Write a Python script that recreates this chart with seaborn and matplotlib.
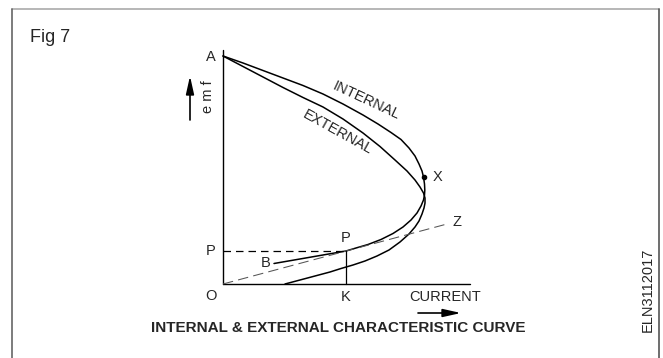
import numpy as np
import pandas as pd
import matplotlib
matplotlib.use("Agg")
import matplotlib.pyplot as plt
import seaborn as sns

sns.set_theme(style="white")
plt.rcParams['font.family'] = ['Liberation Sans', 'DejaVu Sans']

# ---- data (current, emf) in diagram units ----
internal_current = [0, 20, 40, 60, 80, 100, 120, 140, 155, 168, 178, 186, 192, 196, 199, 200.5,
                    201.5, 201.8, 201.5, 200.5, 198, 194, 188, 180, 170, 158, 145, 133, 123, 51]
internal_emf     = [228, 221, 213.5, 206, 198.5, 190, 180, 169, 160, 151.5, 144.5, 136, 128, 120, 113, 107,
                    100, 94, 89, 84, 78, 71, 64, 57, 50.5, 44.5, 39.5, 36, 33, 20.5]
external_current = [0, 20, 40, 60, 80, 100, 120, 140, 157, 172, 184, 192, 197, 200.5, 202, 202, 201,
                    199, 196, 192, 186, 177, 166, 154, 142, 130, 118, 107, 92, 77, 62]
external_emf     = [228, 217.5, 207, 196.5, 186.5, 177, 165, 151, 137.5, 124, 113, 104, 97, 91, 86, 81, 76,
                    70, 63, 57, 50, 42, 34, 28, 23, 19, 15.5, 12, 8, 4, 0]
load_line_current = [0, 224]
load_line_emf     = [0, 60]
point_P = (123, 33)
point_X = (200.5, 107)
point_B = (51, 20.5)

df = pd.concat([
    pd.DataFrame({"current": internal_current, "emf": internal_emf, "curve": "INTERNAL"}),
    pd.DataFrame({"current": external_current, "emf": external_emf, "curve": "EXTERNAL"}),
])

W, H = 663, 358
fig = plt.figure(figsize=(W / 100, H / 100), dpi=100)
ax = fig.add_axes([0, 0, 1, 1])
ox, oy = 223, 284  # pixel position of origin O
ax.set_xlim(-ox, W - ox)
ax.set_ylim(oy - H, oy)
ax.axis("off")

# frame
fig.add_artist(plt.Line2D([12 / W, 659 / W], [1 - 9 / H, 1 - 9 / H], color="#aaaaaa", lw=1.2, transform=fig.transFigure))
fig.add_artist(plt.Line2D([12 / W, 12 / W], [0, 1 - 9 / H], color="#666666", lw=1.2, transform=fig.transFigure))
fig.add_artist(plt.Line2D([659 / W, 659 / W], [0, 1 - 9 / H], color="#555555", lw=1.2, transform=fig.transFigure))

# axes of the diagram
ax.plot([0, 0], [0, 234], color="black", lw=1.0)
ax.plot([0, 247], [0, 0], color="black", lw=1.0)

# curves
sns.lineplot(data=df, x="current", y="emf", units="curve", estimator=None, sort=False,
             color="black", lw=1.1, ax=ax, legend=False)

# load line OZ
sns.lineplot(x=load_line_current, y=load_line_emf, color="#555555", lw=0.75,
             ax=ax, legend=False, linestyle=(0, (10, 5)))

# P dashed horizontal and K vertical
ax.plot([0, point_P[0]], [point_P[1], point_P[1]], color="black", lw=0.9, linestyle=(0, (6, 4)))
ax.plot([point_P[0], point_P[0]], [0, point_P[1]], color="black", lw=0.9)

# X dot
ax.plot([point_X[0]], [point_X[1]], "o", color="black", ms=3)

fs = 10.5
ax.text(-12, 227, "A", fontsize=fs, ha="center", va="center")
ax.text(-12, 33, "P", fontsize=fs, ha="center", va="center")
ax.text(-12, -12, "O", fontsize=fs, ha="center", va="center")
ax.text(123, -13, "K", fontsize=fs, ha="center", va="center")
ax.text(222, -13, "CURRENT", fontsize=fs, ha="center", va="center")
ax.text(point_B[0] - 8, point_B[1] + 0.5, "B", fontsize=fs, ha="center", va="center")
ax.text(123, 46, "P", fontsize=fs, ha="center", va="center")
ax.text(215, 107, "X", fontsize=fs, ha="center", va="center")
ax.text(234, 62, "Z", fontsize=fs, ha="center", va="center")
ax.text(143, 183, "INTERNAL", fontsize=10.5, ha="center", va="center", rotation=-25, rotation_mode="anchor")
ax.text(115, 152, "EXTERNAL", fontsize=10.5, ha="center", va="center", rotation=-29, rotation_mode="anchor")
ax.text(-15, 187, "e m f", fontsize=10.5, ha="center", va="center", rotation=90)

# arrows
ax.annotate("", xy=(-33, 208), xytext=(-33, 164),
            arrowprops=dict(arrowstyle="-|>,head_length=0.9,head_width=0.2", color="black", lw=1.2, shrinkA=0, shrinkB=0))
ax.annotate("", xy=(238, -29), xytext=(195, -29),
            arrowprops=dict(arrowstyle="-|>,head_length=0.9,head_width=0.2", color="black", lw=1.2, shrinkA=0, shrinkB=0))

# captions
fig.text(30 / W, 1 - 37 / H, "Fig 7", fontsize=13, ha="left", va="center")
fig.text(338 / W, 1 - 328 / H, "INTERNAL & EXTERNAL CHARACTERISTIC CURVE", fontsize=11,
         fontweight="bold", ha="center", va="center")
fig.text(648 / W, 1 - 290 / H, "ELN3112017", fontsize=10.5, ha="center", va="center", rotation=90)

fig.savefig("out.png", dpi=100)
